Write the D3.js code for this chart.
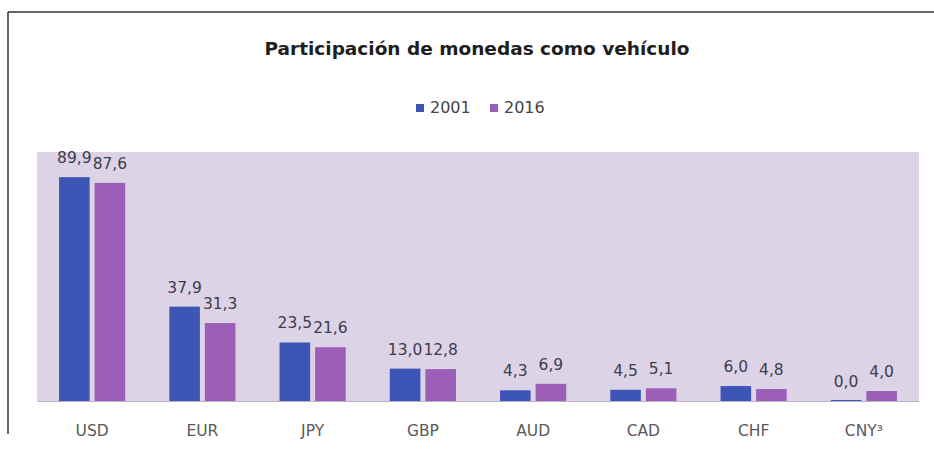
<!DOCTYPE html>
<html>
<head>
<meta charset="utf-8">
<script src="https://cdn.jsdelivr.net/npm/d3@7"></script>
<style>
  html, body { margin: 0; padding: 0; background: #fff; }
  svg { display: block; }
  text { font-family: "DejaVu Sans", sans-serif; }
</style>
</head>
<body>
<svg id="chart" width="934" height="452"></svg>
<script>
// Vehicle-currency share by currency, 2001 vs 2016
const categories = ["USD", "EUR", "JPY", "GBP", "AUD", "CAD", "CHF", "CNY³"];
const seriesNames = ["2001", "2016"];
const values2001 = [89.9, 37.9, 23.5, 13.0, 4.3, 4.5, 6.0, 0.0];
const values2016 = [87.6, 31.3, 21.6, 12.8, 6.9, 5.1, 4.8, 4.0];
const colors = ["#3d56b6", "#9b5fb8"];

const fmt = v => v.toFixed(1).replace(".", ",");

const svg = d3.select("#chart");
const W = 934, H = 452;
const plot = { left: 37, right: 919, top: 152, bottom: 402 };

// outer frame (top and left edges)
svg.append("line").attr("x1", 8).attr("x2", W).attr("y1", 12).attr("y2", 12)
  .attr("stroke", "#333").attr("stroke-width", 1.5);
svg.append("line").attr("x1", 8).attr("x2", 8).attr("y1", 12).attr("y2", 434)
  .attr("stroke", "#333").attr("stroke-width", 1.5);

// plot area background
svg.append("rect")
  .attr("x", plot.left).attr("y", plot.top)
  .attr("width", plot.right - plot.left).attr("height", plot.bottom - plot.top)
  .attr("fill", "#dcd3e7");

const x0 = d3.scaleBand().domain(categories)
  .range([plot.left, plot.right]).paddingInner(0).paddingOuter(0);
const x1 = d3.scaleBand().domain(seriesNames)
  .range([x0.bandwidth() * 0.2, x0.bandwidth() * 0.8]).paddingInner(0.14);
const y = d3.scaleLinear().domain([0, 100]).range([plot.bottom - 1, plot.bottom - 1 - 249]);

const rows = categories.map((c, i) => ({
  cat: c,
  vals: [
    { s: seriesNames[0], v: values2001[i], color: colors[0] },
    { s: seriesNames[1], v: values2016[i], color: colors[1] }
  ]
}));

const groups = svg.append("g").selectAll("g").data(rows).join("g")
  .attr("transform", d => `translate(${x0(d.cat)},0)`);

groups.selectAll("rect").data(d => d.vals).join("rect")
  .attr("x", d => x1(d.s))
  .attr("width", x1.bandwidth())
  .attr("y", d => Math.min(y(d.v), y(0) - 1))
  .attr("height", d => Math.max(y(0) - y(d.v), 1))
  .attr("fill", d => d.color);

groups.selectAll("text").data(d => d.vals).join("text")
  .attr("x", d => x1(d.s) + x1.bandwidth() / 2)
  .attr("y", d => y(d.v) - 14)
  .attr("text-anchor", "middle")
  .attr("font-size", 15.5)
  .attr("fill", "#3d3d4c")
  .text(d => fmt(d.v));

// category axis
const xAxis = d3.axisBottom(x0).tickSize(0).tickPadding(24);
const ax = svg.append("g").attr("transform", `translate(0,${plot.bottom - 1})`).call(xAxis);
ax.select(".domain").attr("stroke", "#b9b0c6");
ax.selectAll("text").attr("font-size", 15.5).attr("fill", "#595959")
  .attr("font-family", "'DejaVu Sans', sans-serif");

// title
svg.append("text")
  .attr("x", 477).attr("y", 55)
  .attr("text-anchor", "middle")
  .attr("font-size", 18.5).attr("font-weight", "bold").attr("fill", "#1e1e1e")
  .text("Participación de monedas como vehículo");

// legend
const legend = svg.append("g");
const legendItems = [{ name: seriesNames[0], x: 416 }, { name: seriesNames[1], x: 490 }];
legendItems.forEach((it, i) => {
  legend.append("rect").attr("x", it.x).attr("y", 104).attr("width", 8).attr("height", 8)
    .attr("fill", colors[i]);
  legend.append("text").attr("x", it.x + 14).attr("y", 112.5)
    .attr("font-size", 16).attr("fill", "#444").text(it.name);
});
</script>
</body>
</html>
